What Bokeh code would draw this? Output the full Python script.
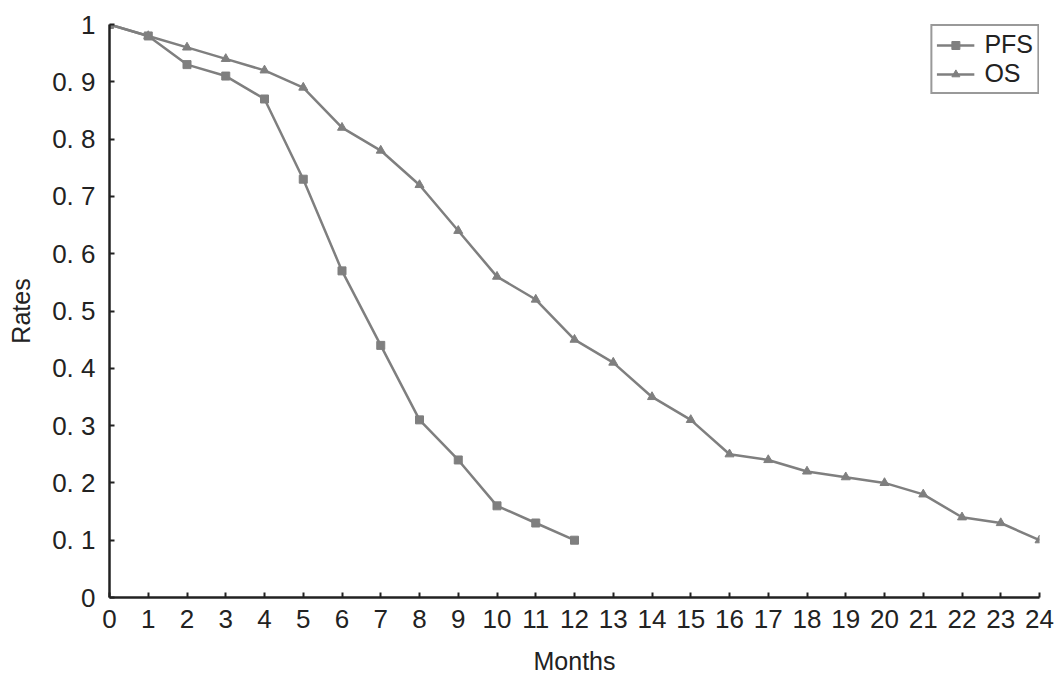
from bokeh.plotting import figure
from bokeh.models import FixedTicker, Range1d, Legend, LegendItem
from bokeh.embed import file_html
from bokeh.resources import INLINE

months_pfs = list(range(0, 13))
pfs = [1.0, 0.98, 0.93, 0.91, 0.87, 0.73, 0.57, 0.44, 0.31, 0.24, 0.16, 0.13, 0.10]
months_os = list(range(0, 25))
os_rates = [1.0, 0.98, 0.96, 0.94, 0.92, 0.89, 0.82, 0.78, 0.72, 0.64, 0.56, 0.52, 0.45,
            0.41, 0.35, 0.31, 0.25, 0.24, 0.22, 0.21, 0.20, 0.18, 0.14, 0.13, 0.10]
y_ticks = [0, 0.1, 0.2, 0.3, 0.4, 0.5, 0.6, 0.7, 0.8, 0.9, 1]
y_tick_labels = ["0", "0. 1", "0. 2", "0. 3", "0. 4", "0. 5", "0. 6", "0. 7", "0. 8", "0. 9", "1"]
x_ticks = list(range(0, 25))

FONT = "Liberation Sans"
GREY = "#7f7f7f"

p = figure(frame_width=930, frame_height=573, output_backend="svg", toolbar_location=None,
           x_range=Range1d(0, 24), y_range=Range1d(0, 1),
           min_border_left=109, min_border_top=24, min_border_right=15, min_border_bottom=10)
p.background_fill_color = "white"
p.outline_line_color = None
p.grid.visible = False

r1 = p.line(months_pfs, pfs, line_color=GREY, line_width=2.5)
m1 = p.scatter(months_pfs, pfs, marker="square", size=8, color=GREY)
r2 = p.line(months_os, os_rates, line_color=GREY, line_width=2.5)
m2 = p.scatter(months_os, os_rates, marker="triangle", size=9, color=GREY)

for ax in (p.xaxis[0], p.yaxis[0]):
    ax.axis_line_color = "#222222"
    ax.axis_line_width = 2.5
    ax.major_tick_in = 5
    ax.major_tick_out = 0
    ax.major_tick_line_color = "#222222"
    ax.major_tick_line_width = 2
    ax.minor_tick_line_color = None
    ax.major_label_text_font = FONT
    ax.major_label_text_font_size = "26px"
    ax.major_label_text_color = "#222222"
    ax.axis_label_text_font = FONT
    ax.axis_label_text_font_size = "25px"
    ax.axis_label_text_font_style = "normal"
    ax.axis_label_text_color = "#222222"

p.xaxis.ticker = FixedTicker(ticks=x_ticks)
p.yaxis.ticker = FixedTicker(ticks=y_ticks)
p.yaxis.major_label_overrides = {t: l for t, l in zip(y_ticks, y_tick_labels)}
p.xaxis.axis_label = "Months"
p.yaxis.axis_label = "Rates"
p.xaxis.major_label_standoff = 12
p.yaxis.major_label_standoff = 14
p.xaxis.axis_label_standoff = 16
p.yaxis.axis_label_standoff = 14

legend = Legend(items=[LegendItem(label="PFS", renderers=[r1, m1]),
                       LegendItem(label="OS", renderers=[r2, m2])],
                location="top_right")
legend.label_text_font = FONT
legend.label_text_font_size = "25px"
legend.label_text_color = "#222222"
legend.border_line_color = "#333333"
legend.border_line_width = 2.5
legend.glyph_width = 38
legend.glyph_height = 20
legend.label_height = 20
legend.spacing = 0
legend.padding = 4
legend.margin = 0
legend.label_standoff = 10
p.add_layout(legend)

open("out.html", "w").write(file_html(p, INLINE))
